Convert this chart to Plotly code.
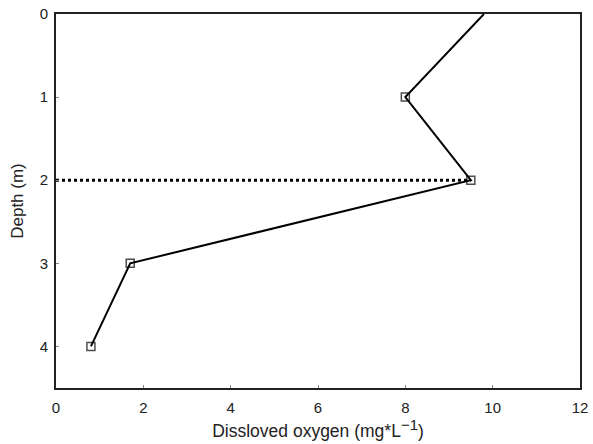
import plotly.graph_objects as go

oxygen = [9.8, 8.0, 9.5, 1.7, 0.8]
depth = [0, 1, 2, 3, 4]
ref_x = [0, 9.5]
ref_y = [2, 2]
x_ticks = [0, 2, 4, 6, 8, 10, 12]
y_ticks = [0, 1, 2, 3, 4]

fig = go.Figure()
fig.add_trace(go.Scatter(x=ref_x, y=ref_y, mode="lines",
                         line=dict(color="black", width=3, dash="dot"),
                         showlegend=False, hoverinfo="skip"))
fig.add_trace(go.Scatter(x=oxygen, y=depth, mode="lines+markers",
                         line=dict(color="black", width=2),
                         marker=dict(symbol="square-open", size=[0, 8, 8, 8, 8], color="black",
                                     line=dict(width=1.5)),
                         showlegend=False))

font = dict(family="Liberation Sans, Arial, sans-serif", size=15, color="#222")
fig.update_layout(
    width=593, height=444,
    margin=dict(l=56, r=13, t=14, b=56),
    plot_bgcolor="white", paper_bgcolor="white",
    font=font,
)
fig.update_xaxes(range=[0, 12], tickvals=x_ticks, showgrid=False, zeroline=False,
                 showline=True, mirror=True, linecolor="#222", linewidth=2,
                 ticks="inside", ticklen=3, tickcolor="#888", automargin=False,
                 tickfont=dict(size=15), ticklabelstandoff=5,
                 title=dict(text="Dissloved oxygen (mg*L<sup><span style='font-size:15px'>\u22121</span></sup>)",
                            font=dict(size=17.5), standoff=4))
fig.update_yaxes(range=[4.5, 0], tickvals=y_ticks, showgrid=False, zeroline=False,
                 showline=True, mirror=True, linecolor="#222", linewidth=2,
                 ticks="inside", ticklen=3, tickcolor="#888", automargin=False,
                 tickfont=dict(size=15), ticklabelstandoff=3,
                 title=dict(text="Depth (m)", font=dict(size=17), standoff=12))

fig.write_html("out.html")
